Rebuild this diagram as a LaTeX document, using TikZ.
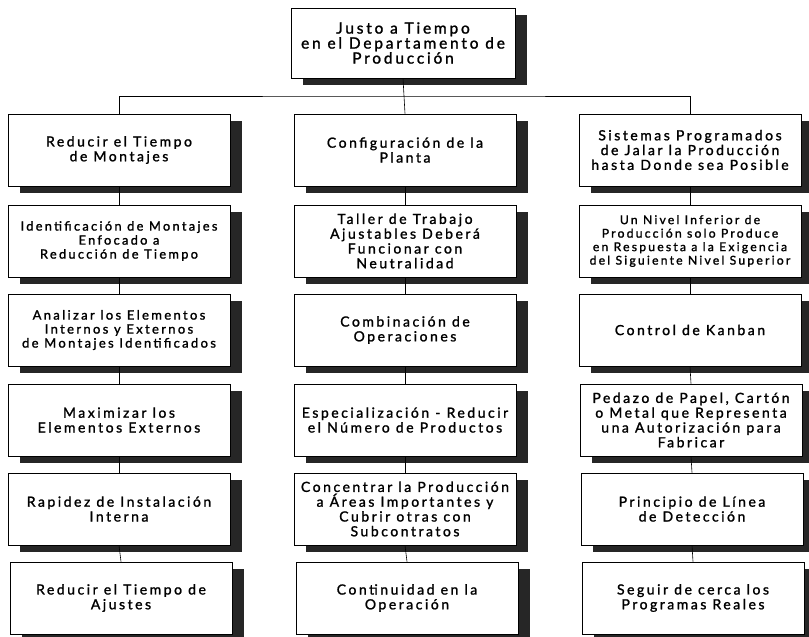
\documentclass[tikz,border=0pt]{standalone}
\usepackage{fontspec}
\setmainfont{Lato}[LetterSpace=18,FakeBold=1.4]
\usetikzlibrary{shadows}
\tikzset{
  bx/.style={draw=black, line width=0.7pt, fill=white, minimum width=222pt, minimum height=72pt,
    inner sep=0pt, align=center, font=\fontsize{14}{14.8}\selectfont,
    general shadow={shadow xshift=12pt, shadow yshift=-7pt, fill=black!85}},
  conn/.style={draw=black, line width=0.6pt}
}
\begin{document}
\begin{tikzpicture}[x=1pt,y=-1pt]
\useasboundingbox (0,0) rectangle (809,637);
% top
\node[bx, minimum width=224pt, minimum height=70pt, font=\fontsize{15.5}{15}\selectfont] (top) at (403,43) {Justo a Tiempo\\en el Departamento de\\Producción};
% left column
\node[bx] (L1) at (119,150) {Reducir el Tiempo\\de Montajes};
\node[bx, font=\fontsize{12.8}{14}\selectfont] (L2) at (119,241) {Identificación de Montajes\\Enfocado a\\Reducción de Tiempo};
\node[bx, font=\fontsize{13}{14}\selectfont] (L3) at (119,330) {Analizar los Elementos\\Internos y Externos\\de Montajes Identificados};
\node[bx] (L4) at (119,420) {Maximizar los\\Elementos Externos};
\node[bx] (L5) at (119,509) {Rapidez de Instalación\\Interna};
\node[bx] (L6) at (121,598) {Reducir el Tiempo de\\Ajustes};
% middle column
\node[bx] (M1) at (405,150) {Configuración de la\\Planta};
\node[bx] (M2) at (405,241) {Taller de Trabajo\\Ajustables Deberá\\Funcionar con\\Neutralidad};
\node[bx] (M3) at (405,330) {Combinación de\\Operaciones};
\node[bx] (M4) at (405,420) {Especialización - Reducir\\el Número de Productos};
\node[bx] (M5) at (405,509) {Concentrar la Producción\\a Áreas Importantes y\\Cubrir otras con\\Subcontratos};
\node[bx] (M6) at (407,598) {Continuidad en la\\Operación};
% right column
\node[bx] (R1) at (690,150) {Sistemas Programados\\de Jalar la Producción\\hasta Donde sea Posible};
\node[bx, font=\fontsize{12.2}{13.5}\selectfont] (R2) at (690,241) {Un Nivel Inferior de\\Producción solo Produce\\en Respuesta a la Exigencia\\del Siguiente Nivel Superior};
\node[bx] (R3) at (690,330) {Control de Kanban};
\node[bx] (R4) at (691,420) {Pedazo de Papel, Cartón\\o Metal que Representa\\una Autorización para\\Fabricar};
\node[bx] (R5) at (692,509) {Principio de Línea\\de Detección};
\node[bx] (R6) at (693,598) {Seguir de cerca los\\Programas Reales};
% connectors
\coordinate (bus) at (403,96);
\draw[conn] (top.south) -- (M1.north);
\draw[conn] (L1.north) |- (bus) -| (R1.north);
\foreach \c in {L,M,R}{
  \draw[conn] (\c1.south) -- (\c2.north);
  \draw[conn] (\c2.south) -- (\c3.north);
  \draw[conn] (\c3.south) -- (\c4.north);
  \draw[conn] (\c4.south) -- (\c5.north);
  \draw[conn] (\c5.south) -- (\c6.north);
}
\end{tikzpicture}
\end{document}
